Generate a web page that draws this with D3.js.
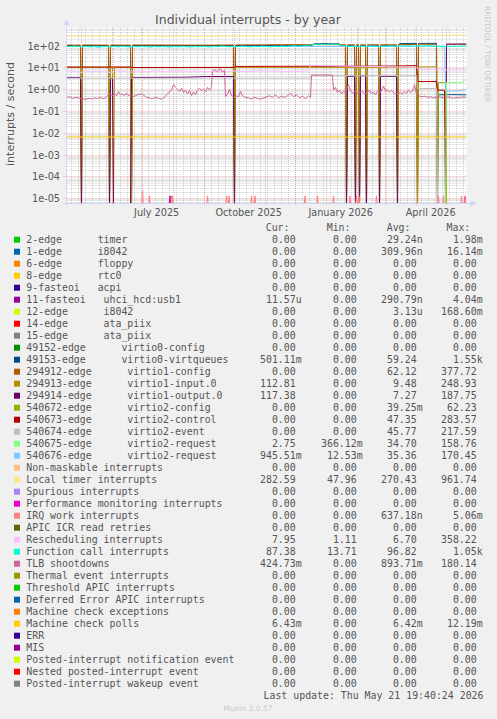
<!DOCTYPE html>
<html><head><meta charset="utf-8">
<script src="https://cdn.jsdelivr.net/npm/d3@7/dist/d3.min.js"></script>
<style>html,body{margin:0;padding:0;background:#F0F0F0;}svg{display:block}</style>
</head><body><svg id="c" width="497" height="719"></svg>
<script>
// ---------------- DATA ----------------
const startDate = Date.UTC(2025, 3, 16, 19, 40);   // first day of the 400-day window
const totalDays = 400;
const yTickValues = [1e2, 1e1, 1e0, 1e-1, 1e-2, 1e-3, 1e-4, 1e-5];
const yTickLabels = ["1e+02","1e+01","1e+00","1e-01","1e-02","1e-03","1e-04","1e-05"];
const xLabelText = ["July 2025","October 2025","January 2026","April 2026"];
const xLabelDates = [Date.UTC(2025,6,16), Date.UTC(2025,9,16), Date.UTC(2026,0,16), Date.UTC(2026,3,16)];

const legendNames = [
"2-edge      timer","1-edge      i8042","6-edge      floppy","8-edge      rtc0","9-fasteoi   acpi",
"11-fasteoi   uhci_hcd:usb1","12-edge      i8042","14-edge      ata_piix","15-edge      ata_piix",
"49152-edge      virtio0-config","49153-edge      virtio0-virtqueues","294912-edge      virtio1-config",
"294913-edge      virtio1-input.0","294914-edge      virtio1-output.0","540672-edge      virtio2-config",
"540673-edge      virtio2-control","540674-edge      virtio2-event","540675-edge      virtio2-request",
"540676-edge      virtio2-request","Non-maskable interrupts","Local timer interrupts","Spurious interrupts",
"Performance monitoring interrupts","IRQ work interrupts","APIC ICR read retries","Rescheduling interrupts",
"Function call interrupts","TLB shootdowns","Thermal event interrupts","Threshold APIC interrupts",
"Deferred Error APIC interrupts","Machine check exceptions","Machine check polls","ERR","MIS",
"Posted-interrupt notification event","Nested posted-interrupt event","Posted-interrupt wakeup event"];
const legendColors = ["#00CC00","#0066B3","#FF8000","#FFCC00","#330099","#990099","#CCFF00","#FF0000","#808080",
"#008F00","#00487D","#B35A00","#B38F00","#6B006B","#8FB300","#B30000","#BEBEBE","#80FF80","#80C9FF",
"#FFC080","#FFE680","#AA80FF","#EE00CC","#FF8080","#666600","#FFBFFF","#00FFCC","#CC6699","#999900",
"#00CC00","#0066B3","#FF8000","#FFCC00","#330099","#990099","#CCFF00","#FF0000","#808080"];
const curValues = ["0.00","0.00","0.00","0.00","0.00","11.57u","0.00","0.00","0.00","0.00","501.11m","0.00","112.81","117.38","0.00","0.00","0.00","2.75","945.51m","0.00","282.59","0.00","0.00","0.00","0.00","7.95","87.38","424.73m","0.00","0.00","0.00","0.00","6.43m","0.00","0.00","0.00","0.00","0.00"];
const minValues = ["0.00","0.00","0.00","0.00","0.00","0.00","0.00","0.00","0.00","0.00","0.00","0.00","0.00","0.00","0.00","0.00","0.00","366.12m","12.53m","0.00","47.96","0.00","0.00","0.00","0.00","1.11","13.71","0.00","0.00","0.00","0.00","0.00","0.00","0.00","0.00","0.00","0.00","0.00"];
const avgValues = ["29.24n","309.96n","0.00","0.00","0.00","290.79n","3.13u","0.00","0.00","0.00","59.24","62.12","9.48","7.27","39.25m","47.35","45.77","34.70","35.36","0.00","270.43","0.00","0.00","637.18n","0.00","6.70","96.82","893.71m","0.00","0.00","0.00","0.00","6.42m","0.00","0.00","0.00","0.00","0.00"];
const maxValues = ["1.98m","16.14m","0.00","0.00","0.00","4.04m","168.60m","0.00","0.00","0.00","1.55k","377.72","248.93","187.75","62.23","283.57","217.59","158.76","170.45","0.00","961.74","0.00","0.00","5.06m","0.00","358.22","1.05k","180.14","0.00","0.00","0.00","0.00","12.19m","0.00","0.00","0.00","0.00","0.00"];

// series as [day, value] pairs (day 0 = window start)
const virtio0Queues = [[0,100],[14,100],[15,0],[16,100],[42,100],[43,0],[44,100],[64,100],[65,0],[66,100],[167,100],[168,0],[169,100],[246,102],[247,118],[260,122],[273,118],[274,102],[279,102],[280,0],[281,102],[288,102],[289,0],[290,102],[292,102],[293,0],[294,102],[299,102],[300,0],[301,102],[312,102],[313,0],[314,102],[330,102],[331,0],[332,110],[333,122],[350,125],[351,0],[352,124],[370,126],[371,0],[372,0.55],[385,0.56],[400,0.55]];
const virtio1Config = [[0,105],[14,104],[15,0],[16,106],[42,104],[43,0],[44,105],[64,104],[65,0],[66,106],[100,105],[140,104],[167,106],[168,0],[169,106],[200,108],[240,110],[279,108],[280,0],[281,107],[288,107],[289,0],[290,108],[292,108],[293,0],[294,107],[299,107],[300,0],[301,108],[312,108],[313,0],[314,108],[330,108],[331,0],[332,110],[350,112],[351,0],[352,115],[370,112],[371,0],[400,0]];
const virtio1Input = [[0,9.8],[14,9.8],[15,0],[16,9.8],[42,9.8],[43,0],[44,9.8],[46,9.8],[47,0],[48,9.8],[64,9.8],[65,0],[66,9.8],[167,9.9],[168,0],[169,10],[279,10],[280,0],[281,10],[288,10],[289,0],[290,10],[292,10],[293,0],[294,10],[299,10],[300,0],[301,10],[312,10],[313,0],[314,10],[330,10],[331,0],[332,10],[350,10],[351,0],[352,10.5],[370,10.5],[371,0],[379,0],[380,112],[400,113]];
const virtio1Output = [[0,3.4],[14,3.4],[15,0],[43,0],[44,3.1],[46,3.1],[47,0],[64,0],[65,3.4],[120,3.5],[140,3.8],[167,3.8],[168,0],[280,0],[281,3.8],[288,3.8],[289,0],[293,0],[294,4.1],[299,4.1],[300,0],[313,0],[314,3.8],[330,3.8],[331,0],[379,0],[380,116],[400,117]];
const virtio2Config = [[0,0],[371,0],[372,2.0],[379,2.0],[380,0],[400,0]];
const virtio2Control = [[0,10.4],[64,10.4],[66,9.8],[167,9.9],[169,11],[330,11.5],[350,12],[351,2.25],[370,2.25],[371,0.9],[378,0.9],[379,0],[400,0]];
const virtio2Event = [[0,3.2],[167,3.2],[244,3.2],[245,4.1],[350,4.1],[351,1.07],[370,1.07],[371,0],[400,0]];
const virtio2Request1 = [[0,0],[379,0],[380,2.0],[390,2.0],[396,2.1],[400,2.9]];
const virtio2Request2 = [[0,90],[100,90],[200,90],[300,90],[378,95],[379,0.8],[390,0.85],[396,0.9],[400,1.0]];
const localTimer = [[0,268],[20,262],[40,270],[60,265],[80,268],[100,262],[120,266],[140,260],[160,268],[180,270],[200,272],[220,268],[240,270],[260,275],[268,298],[290,300],[310,296],[330,300],[350,292],[370,296],[385,305],[400,305]];
const irqWorkSpikes = [[76,2.4e-5],[83,1.3e-5],[105,1.3e-5],[106,1.3e-5],[141,1.3e-5],[160,1.3e-5],[162.5,1.3e-5],[185,1.3e-5],[188.5,1.3e-5],[238.5,1.3e-5],[251,1.3e-5],[267,1.3e-5],[283.5,1.3e-5],[290,1.3e-5],[292.5,1.3e-5],[310,1.3e-5],[372,1.3e-5],[377,1.3e-5],[395,1.3e-5],[398.5,1.3e-5]];
const usbSpikes = [[103.5,1.3e-5],[398.5,1.2e-5]];
const rescheduling = [[0,6.5],[5,7.2],[10,6.3],[15,5.8],[20,6.8],[25,6.2],[30,7],[35,6.4],[40,6.9],[44,5.5],[48,6.6],[55,7.1],[60,6.3],[65,6],[70,6.8],[80,6.4],[90,7.0],[100,6.5],[110,7.2],[120,6.6],[130,6.9],[140,6.3],[150,7.0],[160,6.5],[170,6.8],[180,6.4],[190,7.1],[200,6.6],[210,6.9],[220,6.4],[230,6.8],[240,6.6],[245,12.5],[260,12.2],[280,11.5],[300,11],[320,10.6],[340,10.2],[350,10],[352,8.0],[360,7.6],[370,8.2],[380,7.4],[390,7.8],[400,7.6]];
const functionCall = [[0,92],[4,88],[8,95],[12,90],[16,86],[20,92],[24,84],[28,90],[32,82],[36,88],[40,92],[44,85],[48,90],[52,86],[56,93],[60,88],[64,84],[68,90],[72,86],[76,92],[80,88],[84,84],[88,90],[92,86],[96,91],[100,87],[104,84],[108,90],[112,86],[116,92],[120,88],[124,84],[128,90],[132,86],[136,92],[140,88],[144,85],[148,92],[152,88],[156,95],[160,90],[164,86],[168,92],[172,88],[176,95],[180,90],[184,86],[188,92],[192,88],[196,94],[200,90],[204,86],[208,92],[212,88],[216,95],[220,90],[224,94],[228,98],[232,92],[236,96],[240,100],[244,106],[248,112],[252,108],[256,115],[260,110],[264,118],[268,112],[272,108],[276,100],[280,94],[284,90],[288,96],[292,88],[296,94],[300,90],[304,96],[308,92],[312,88],[316,94],[320,90],[324,96],[328,92],[332,98],[336,94],[340,100],[344,96],[348,92],[352,98],[356,94],[360,100],[364,96],[368,92],[372,90],[376,86],[380,92],[384,88],[388,94],[392,90],[396,96],[400,92]];
const tlbShootdowns = [[0,0.42],[3,0.45],[6,0.38],[9,0.42],[12,0.4],[14,0.38],[16,0.36],[19,0.34],[22,0.38],[25,0.36],[28,0.4],[31,0.37],[34,0.42],[37,0.36],[40,0.45],[42,0.55],[44,0.6],[46,0.5],[48,0.62],[50,0.5],[52,0.75],[54,0.55],[56,0.6],[58,0.5],[60,0.66],[62,0.5],[64,0.55],[66,0.45],[69,0.5],[72,0.58],[75,0.6],[78,0.5],[80,0.42],[83,0.4],[86,0.36],[89,0.42],[92,0.38],[95,0.35],[98,0.42],[100,0.55],[103,0.75],[105,0.9],[107,1.6],[109,1.2],[111,1.0],[113,0.8],[115,1.1],[117,0.7],[119,0.9],[121,0.6],[123,0.85],[125,0.5],[127,0.75],[129,0.55],[131,0.9],[133,1.1],[135,0.85],[137,1.0],[139,0.75],[141,1.2],[143,0.9],[145,1.3],[146,6.5],[148,8.0],[150,6.2],[152,7.5],[154,8.5],[156,6.0],[158,7.2],[159,0.45],[161,0.6],[163,1.0],[165,0.5],[167,0.45],[169,0.5],[172,0.45],[174,0.8],[176,0.5],[179,0.42],[182,0.4],[185,0.36],[188,0.42],[191,0.38],[194,0.35],[197,0.4],[200,0.44],[203,0.5],[206,0.42],[209,0.55],[212,0.4],[215,0.48],[218,0.42],[221,0.5],[224,0.65],[227,0.45],[230,0.55],[233,0.4],[236,0.48],[239,0.36],[242,0.5],[244,0.42],[245,4.4],[250,4.5],[255,4.4],[260,4.5],[266,4.4],[267,0.9],[269,1.2],[271,0.7],[273,0.9],[275,0.6],[277,0.8],[279,0.7],[281,1.3],[282,1.6],[284,0.8],[286,0.65],[288,0.75],[290,0.7],[292,0.6],[294,0.7],[296,0.8],[298,0.6],[301,0.7],[303,0.9],[305,0.6],[307,0.75],[309,0.55],[311,0.8],[314,0.7],[317,1.4],[319,0.8],[321,0.9],[323,0.75],[325,0.85],[327,0.7],[329,0.6],[332,0.65],[334,0.7],[336,0.6],[338,0.8],[340,0.65],[342,0.9],[344,0.7],[346,0.8],[348,1.6],[350,0.6],[352,0.5],[355,0.45],[358,0.48],[361,0.42],[364,0.45],[367,0.4],[370,0.44],[372,0.45],[375,0.42],[378,0.4],[381,0.44],[384,0.42],[387,0.38],[390,0.42],[393,0.4],[396,0.44],[400,0.42]];
const machineCheckPolls = [[0,0.0064],[400,0.0064]];

// ---------------- DRAW ----------------
const svg = d3.select("#c");
const W = 497, H = 719;
const plotL = 66.5, plotR = 466.5, plotT = 28, plotB = 203;
const DAY = 86400000;
const x = d3.scaleTime().domain([new Date(startDate), new Date(startDate + totalDays*DAY)]).range([plotL, plotR]);
const y = d3.scaleLog().domain([10**-5.215, 10**2.8017]).range([plotB, plotT]);
const dx = d => x(new Date(startDate + d*DAY));

svg.append("rect").attr("width", W).attr("height", H).attr("fill", "#F0F0F0");
svg.append("rect").attr("x", plotL).attr("y", plotT).attr("width", plotR-plotL).attr("height", plotB-plotT).attr("fill", "#FFFFFF");

const grid = svg.append("g");
const minorCol = "rgba(150,150,150,0.45)", majorCol = "rgba(230,110,110,0.5)";
for (let e = -6; e <= 2; e++) for (let m = 2; m <= 9; m++) {
  const v = m * 10**e; if (v < y.domain()[0] || v > y.domain()[1]) continue;
  const yy = Math.round(y(v)) + 0.5;
  grid.append("line").attr("x1", plotL).attr("x2", plotR).attr("y1", yy).attr("y2", yy)
    .attr("stroke", minorCol).attr("stroke-dasharray", "1,1");
}
d3.timeMonday.every(1).range(x.domain()[0], x.domain()[1]).forEach(t => {
  const xx = Math.round(x(t)) + 0.5;
  grid.append("line").attr("x1", xx).attr("x2", xx).attr("y1", plotT).attr("y2", plotB)
    .attr("stroke", minorCol).attr("stroke-dasharray", "1,1");
});
yTickValues.forEach(v => {
  const yy = Math.round(y(v)) + 0.5;
  grid.append("line").attr("x1", plotL-3).attr("x2", plotR).attr("y1", yy).attr("y2", yy)
    .attr("stroke", majorCol).attr("stroke-dasharray", "1,1");
});
d3.utcMonth.every(1).range(x.domain()[0], x.domain()[1]).forEach(t => {
  const xx = Math.round(x(t)) + 0.5;
  grid.append("line").attr("x1", xx).attr("x2", xx).attr("y1", plotT).attr("y2", plotB+3)
    .attr("stroke", majorCol).attr("stroke-dasharray", "1,1");
});

svg.append("clipPath").attr("id", "clip").append("rect")
  .attr("x", plotL).attr("y", plotT).attr("width", plotR-plotL).attr("height", plotB-plotT);
const line = d3.line().x(p => dx(p[0])).y(p => p[1] > 0 ? y(p[1]) : plotB + 4);
function spikes(list) {
  const pts = [[0,0]];
  list.forEach(s => { pts.push([s[0]-1,0],[s[0],s[1]],[s[0]+1,0]); });
  pts.push([400,0]);
  return pts;
}
const seriesByIndex = {
  5: spikes(usbSpikes), 10: virtio0Queues, 11: virtio1Config, 12: virtio1Input, 13: virtio1Output,
  14: virtio2Config, 15: virtio2Control, 16: virtio2Event, 17: virtio2Request1, 18: virtio2Request2,
  20: localTimer, 23: spikes(irqWorkSpikes), 25: rescheduling, 26: functionCall, 27: tlbShootdowns,
  32: machineCheckPolls
};
const gS = svg.append("g").attr("clip-path", "url(#clip)");
legendNames.forEach((n, i) => {
  if (!seriesByIndex[i]) return;
  gS.append("path").attr("d", line(seriesByIndex[i])).attr("fill", "none")
    .attr("stroke", legendColors[i]).attr("stroke-width", 1);
});

const axisCol = "#CFD6F8";
svg.append("line").attr("x1", plotL).attr("x2", plotL).attr("y1", plotB+3).attr("y2", plotT-4).attr("stroke", axisCol);
svg.append("line").attr("x1", plotL-3).attr("x2", plotR+4).attr("y1", plotB+0.5).attr("y2", plotB+0.5).attr("stroke", axisCol);
svg.append("path").attr("d", `M${plotL-3},${plotT-3} L${plotL+3},${plotT-3} L${plotL},${plotT-9} Z`).attr("fill", axisCol);
svg.append("path").attr("d", `M${plotR+4},${plotB-2.5} L${plotR+4},${plotB+3.5} L${plotR+10},${plotB+0.5} Z`).attr("fill", axisCol);

const fontCol = "#555555";
yTickValues.forEach((v, i) => {
  svg.append("text").attr("x", 60).attr("y", Math.round(y(v)) + 4)
    .attr("text-anchor", "end").attr("font-family", "DejaVu Sans").attr("font-size", "9.7px")
    .attr("fill", fontCol).text(yTickLabels[i]);
});
xLabelText.forEach((t, i) => {
  svg.append("text").attr("x", x(new Date(xLabelDates[i]))).attr("y", 216)
    .attr("text-anchor", "middle").attr("font-family", "DejaVu Sans").attr("font-size", "9.7px")
    .attr("fill", fontCol).text(t);
});

svg.append("text").attr("x", 248).attr("y", 24).attr("text-anchor", "middle")
  .attr("font-family", "DejaVu Sans").attr("font-size", "12.5px").attr("fill", fontCol)
  .text("Individual interrupts - by year");
svg.append("text").attr("transform", "translate(13.5,114) rotate(-90)").attr("text-anchor", "middle")
  .attr("font-family", "DejaVu Sans").attr("font-size", "11px").attr("fill", fontCol)
  .text("interrupts / second");
svg.append("text").attr("transform", "translate(485,6) rotate(90)").attr("text-anchor", "start")
  .attr("font-family", "DejaVu Sans").attr("font-size", "7.5px").attr("fill", "#c8c8c8")
  .text("RRDTOOL / TOBI OETIKER");

const mono = "DejaVu Sans Mono";
const lg = svg.append("g").attr("font-family", mono).attr("font-size", "9.9px").attr("fill", fontCol)
  .style("white-space", "pre");
const headers = ["Cur:","Min:","Avg:","Max:"], headX = [265.7, 326.7, 386.7, 446.5];
headers.forEach((h, i) => lg.append("text").attr("x", headX[i]).attr("y", 231).attr("xml:space","preserve").text(h));
const colRight = [295.7, 356.7, 416.7, 476.7];
const cols = [curValues, minValues, avgValues, maxValues];
legendNames.forEach((n, i) => {
  const yy = 239.7 + 12*i;
  lg.append("rect").attr("x", 14).attr("y", yy-3).attr("width", 6).attr("height", 6).attr("fill", legendColors[i]);
  lg.append("text").attr("x", 26.3).attr("y", yy+3.5).attr("xml:space","preserve").text(n);
  cols.forEach((c, j) => {
    const s = c[i]; const unit = /[a-zA-Z]$/.test(s) ? s.slice(-1) : ""; const num = unit ? s.slice(0,-1) : s;
    lg.append("text").attr("x", colRight[j]).attr("y", yy+3.5).attr("text-anchor", "end").text(num);
    if (unit) lg.append("text").attr("x", colRight[j]).attr("y", yy+3.5).text(unit);
  });
});
lg.append("text").attr("x", 483.5).attr("y", 699).attr("text-anchor", "end").attr("xml:space","preserve")
  .text("Last update: Thu May 21 19:40:24 2026");
svg.append("text").attr("x", 248).attr("y", 711).attr("text-anchor", "middle")
  .attr("font-family", "DejaVu Sans").attr("font-size", "7.5px").attr("fill", "#c8c8c8").text("Munin 2.0.57");
</script></body></html>
